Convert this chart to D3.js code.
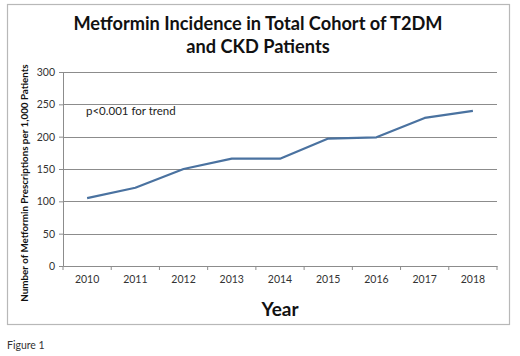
<!DOCTYPE html>
<html>
<head>
<meta charset="utf-8">
<script src="https://cdn.jsdelivr.net/npm/d3@7"></script>
<style>
  body { margin: 0; background: #fff; }
  text { font-family: Lato, "Open Sans", sans-serif; }
</style>
</head>
<body>
<div id="wrapper"></div>
<script>
// values
const years = ["2010", "2011", "2012", "2013", "2014", "2015", "2016", "2017", "2018"]
const incidence = [105, 121, 150, 166, 166, 197, 199, 229, 240]
const yTicks = [0, 50, 100, 150, 200, 250, 300]

const dimensions = {
  width: 520,
  height: 356,
  margin: { top: 72, right: 23, bottom: 90, left: 63 },
}
dimensions.boundedWidth = dimensions.width - dimensions.margin.left - dimensions.margin.right
dimensions.boundedHeight = dimensions.height - dimensions.margin.top - dimensions.margin.bottom

const svg = d3.select("#wrapper")
  .append("svg")
  .attr("width", dimensions.width)
  .attr("height", dimensions.height)

// outer frame of the chart
svg.append("rect")
  .attr("x", 7.5).attr("y", 4.5)
  .attr("width", 502).attr("height", 320)
  .attr("fill", "none")
  .attr("stroke", "#b8b8b8")
  .attr("stroke-width", 1.2)

const bounds = svg.append("g")
  .attr("transform", `translate(${dimensions.margin.left},${dimensions.margin.top})`)

const xScale = d3.scaleBand()
  .domain(years)
  .range([0, dimensions.boundedWidth])

const yScale = d3.scaleLinear()
  .domain([0, 300])
  .range([dimensions.boundedHeight, 0])

// gridlines
bounds.append("g")
  .selectAll("line")
  .data(yTicks.filter(d => d > 0))
  .join("line")
  .attr("x1", 0)
  .attr("x2", dimensions.boundedWidth)
  .attr("y1", d => Math.round(yScale(d)) + 0.5)
  .attr("y2", d => Math.round(yScale(d)) + 0.5)
  .attr("stroke", "#8c8c8c")
  .attr("stroke-width", 1)

// y axis
const yAxis = bounds.append("g")
  .call(d3.axisLeft(yScale).tickValues(yTicks).tickSize(4).tickPadding(4))
yAxis.select(".domain").attr("stroke", "#8c8c8c")
yAxis.selectAll(".tick line").attr("stroke", "#8c8c8c")
yAxis.selectAll("text")
  .attr("font-size", 10.5)
  .attr("fill", "#333")
  .style("font-family", "Lato, sans-serif")

// x axis, ticks sit between the categories
const xAxis = bounds.append("g")
  .attr("transform", `translate(0,${dimensions.boundedHeight})`)
  .call(d3.axisBottom(xScale).tickSize(0).tickPadding(10))
xAxis.select(".domain").attr("stroke", "#8c8c8c")
xAxis.selectAll("text")
  .attr("font-size", 10.5)
  .attr("fill", "#333")
  .style("font-family", "Lato, sans-serif")
xAxis.append("g")
  .selectAll("line")
  .data(years.concat(["end"]))
  .join("line")
  .attr("x1", (d, i) => i * xScale.step())
  .attr("x2", (d, i) => i * xScale.step())
  .attr("y1", 0)
  .attr("y2", 4)
  .attr("stroke", "#8c8c8c")

// the line
const lineGenerator = d3.line()
  .x((d, i) => xScale(years[i]) + xScale.bandwidth() / 2)
  .y(d => yScale(d))

bounds.append("path")
  .datum(incidence)
  .attr("d", lineGenerator)
  .attr("fill", "none")
  .attr("stroke", "#4a72a0")
  .attr("stroke-width", 2.2)
  .attr("stroke-linejoin", "round")

bounds.append("text")
  .attr("x", 23)
  .attr("y", yScale(233))
  .attr("font-size", 11.5)
  .attr("fill", "#222")
  .text("p<0.001 for trend")

// titles
const title = svg.append("text")
  .attr("text-anchor", "middle")
  .attr("font-size", 18.2)
  .attr("font-weight", "bold")
  .attr("fill", "#111")
title.append("tspan").attr("x", 258).attr("y", 30).text("Metformin Incidence in Total Cohort of T2DM")
title.append("tspan").attr("x", 258).attr("y", 53).text("and CKD Patients")

svg.append("text")
  .attr("transform", `translate(28,${dimensions.margin.top + dimensions.boundedHeight / 2 + 14}) rotate(-90)`)
  .attr("text-anchor", "middle")
  .attr("font-size", 9.8)
  .attr("font-weight", "bold")
  .attr("fill", "#111")
  .text("Number of Metformin Prescriptions per 1,000 Patients")

svg.append("text")
  .attr("x", 280)
  .attr("y", 316)
  .attr("text-anchor", "middle")
  .attr("font-size", 19)
  .attr("font-weight", "bold")
  .attr("fill", "#111")
  .text("Year")

svg.append("text")
  .attr("x", 7)
  .attr("y", 349)
  .attr("font-size", 10.5)
  .attr("fill", "#333")
  .text("Figure 1")
</script>
</body>
</html>
